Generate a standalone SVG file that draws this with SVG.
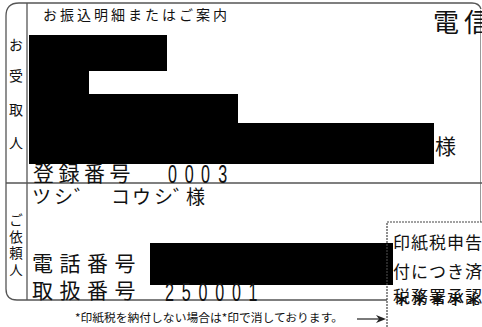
<svg xmlns="http://www.w3.org/2000/svg" width="482" height="327" viewBox="0 0 482 327">
<style>
.ln{fill:none;stroke:#555;stroke-width:1.3}
.lt{fill:none;stroke:#999;stroke-width:1}
.dot{fill:none;stroke:#444;stroke-width:1.2;stroke-dasharray:2 1}
.t{font-family:"Noto Sans CJK JP","Noto Sans",sans-serif;fill:#111}
.m{font-family:"Liberation Sans","DejaVu Sans",sans-serif;fill:#111}
.red{fill:#000}
</style>
<rect width="482" height="327" fill="#fff"/>
<g id="frame">
<path class="ln" d="M472,3 H19 Q6,3 6,16 V289 Q6,300 17,300 H387"/>
<path class="ln" d="M472,3 Q479,3 481,9"/>
<line class="lt" x1="480.5" y1="10" x2="480.5" y2="222"/>
<line class="ln" x1="27" y1="3" x2="27" y2="300"/>
<line class="ln" x1="6" y1="183" x2="482" y2="183"/>
</g>
<g id="header">
<text class="t" x="43" y="20" font-size="14" letter-spacing="3" fill="#333">お振込明細またはご案内</text>
<text class="t" x="433" y="32" font-size="26" letter-spacing="5">電信</text>
</g>
<g id="recipient-label" class="t" font-size="14" text-anchor="middle">
<text x="16" y="50">お</text>
<text x="16" y="81">受</text>
<text x="16" y="115">取</text>
<text x="16" y="148">人</text>
</g>
<g id="recipient">
<text class="t" x="33" y="181" font-size="21" letter-spacing="4.5">登録番号</text>
<text class="m" transform="scale(0.62,1)" x="271 298 324 352" y="183" font-size="26">0003</text>
<path class="red" d="M29,35 H167 V71 H89 V94 H238 V123 H434 V164 H29 Z"/>
<text class="t" x="435" y="154" font-size="21">様</text>
</g>
<g id="requester-label" class="t" font-size="13.5" text-anchor="middle">
<text x="16" y="225">ご</text>
<text x="16" y="242">依</text>
<text x="16" y="258">頼</text>
<text x="16" y="275">人</text>
</g>
<g id="requester">
<text class="t" x="32 54 74 111 132 154 173 186" y="204" font-size="19">ツシ゛コウシ゛様</text>
<text class="t" x="32" y="271" font-size="21" letter-spacing="6.5">電話番号</text>
<rect class="red" x="150" y="243" width="243" height="42"/>
<text class="t" x="32" y="298" font-size="21" letter-spacing="6.5">取扱番号</text>
<text class="m" transform="scale(0.62,1)" x="266 293 320 347 374 401" y="301" font-size="26">250001</text>
</g>
<g id="footer">
<text class="t" x="75" y="322" font-size="11.5" textLength="268" lengthAdjust="spacingAndGlyphs">*印紙税を納付しない場合は*印で消しております。</text>
<line x1="357" y1="319" x2="380" y2="319" stroke="#222" stroke-width="1.2"/>
<path d="M386,319 L376,315 L379,319 L376,323 Z" fill="#222"/>
</g>
<g id="stamp">
<path class="dot" d="M387,327 V222 H482"/>
<text class="t" x="393" y="249" font-size="17" letter-spacing="1">印紙税申告</text>
<text class="t" x="393" y="278" font-size="17" letter-spacing="1">付につき済</text>
<text class="t" x="393" y="303" font-size="17" letter-spacing="1">税務署承認</text>
<text class="t" x="393" y="306" font-size="17" letter-spacing="1" font-weight="bold">＊＊＊＊＊</text>
</g>
</svg>
